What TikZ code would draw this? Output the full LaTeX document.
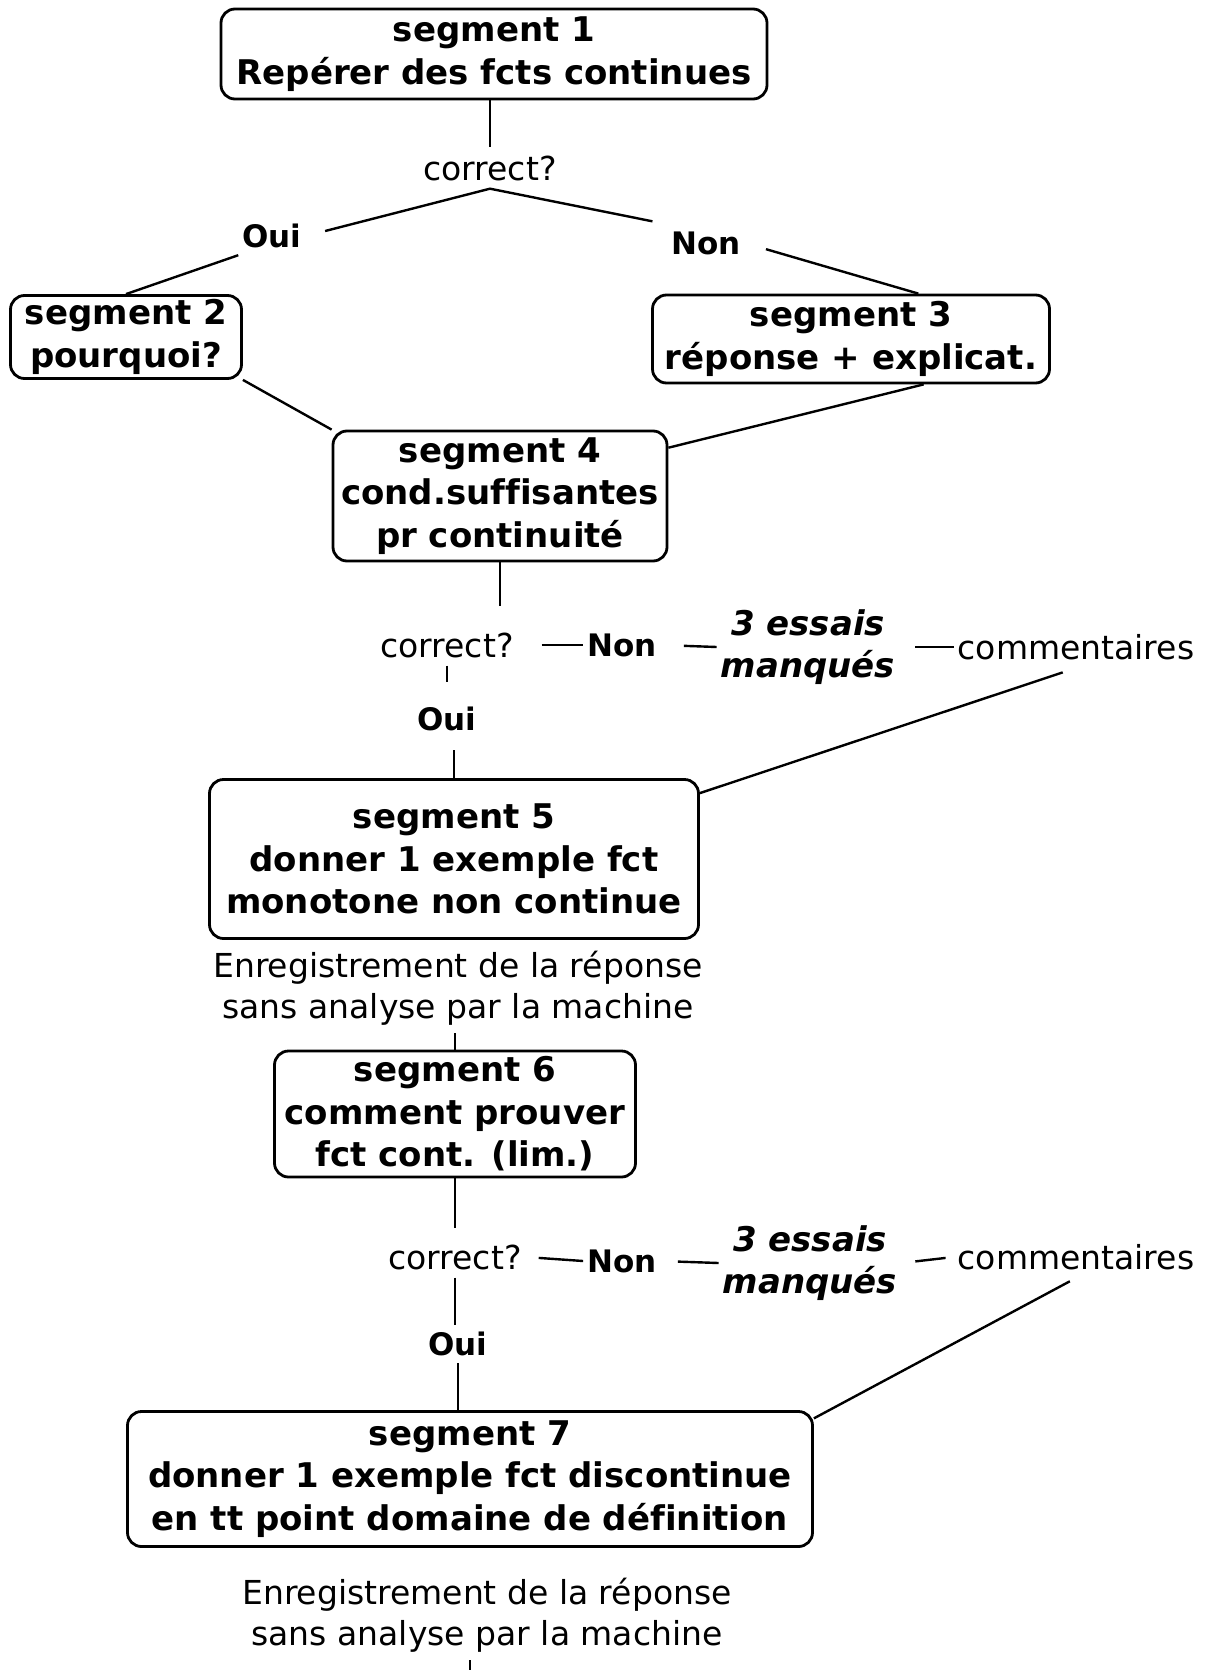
\documentclass[tikz,border=0pt]{standalone}
\usepackage{fontspec}
\setmainfont[Ligatures=NoCommon]{DejaVu Sans}
\newcommand\boxfont{\fontsize{34}{42.6}\selectfont\bfseries}
\newcommand\labfont{\fontsize{33}{40.5}\selectfont}
\newcommand\repfont{\fontsize{31}{38}\selectfont\bfseries}
\newcommand\essfont{\fontsize{34}{42.6}\selectfont\bfseries\itshape}
\begin{document}
\begin{tikzpicture}[x=1pt, y=-1pt, line width=2.4pt,
  seg/.style={draw, rounded corners=14pt, line width=2.8pt, align=center,
    font=\boxfont, inner xsep=6pt, inner ysep=0pt},
  lab/.style={font=\labfont, align=center, inner xsep=3pt, inner ysep=7pt},
  rep/.style={font=\repfont, inner xsep=3pt, inner ysep=6pt},
  ess/.style={font=\essfont, align=center, inner xsep=3pt, inner ysep=6pt}]
  \useasboundingbox (0,0) rectangle (1207,1670);
  % segment 1 and first test
  \node[seg, minimum width=546pt, minimum height=90pt] (seg1) at (494,54) {segment 1\\Repérer des fcts continues};
  \node[lab] (cor1) at (490,168) {correct?};
  \node[rep] (oui1) at (272,236) {Oui};
  \node[rep] (non1) at (706,243) {Non};
  \draw (cor1.north |- seg1.south) -- (cor1.north);
  \draw[shorten <=20pt, shorten >=15pt] (oui1.east) -- (cor1.south) -- (non1.north west);
  % segments 2 and 3
  \node[seg, minimum width=231pt, minimum height=83pt] (seg2) at (126,337) {segment 2\\pourquoi?};
  \node[seg, minimum width=397pt, minimum height=88pt] (seg3) at (851,339) {segment 3\\réponse + explicat.};
  \draw (oui1.south west) -- (seg2.north);
  \draw[shorten <=22pt] (non1.east) -- (seg3.34);
  % segment 4 and its test
  \node[seg, minimum width=334pt, minimum height=130pt] (seg4) at (500,496) {segment 4\\cond.suffisantes\\pr continuité};
  \draw (seg2.south east) -- (seg4.north west);
  \draw (seg3.-32) -- (seg4.16);
  \node[lab] (cor2) at (447,645) {correct?};
  \node[rep] (non2) at (622,645) {Non};
  \node[ess] (ess1) at (808,647) {3 essais\\manqués};
  \node[lab] (com1) at (1076,647) {commentaires};
  \node[rep] (oui2) at (447,719) {Oui};
  \draw[shorten >=18pt] (seg4.south) -- (seg4.south |- cor2.north);
  \draw[shorten <=24pt] (cor2.east) -- (non2.west);
  \draw[shorten <=23pt] (non2.east) -- (ess1.west);
  \draw[shorten <=16pt] (ess1.east) -- (com1.west);
  \draw[shorten >=18pt] (cor2.south) -- (cor2.south |- oui2.north);
  % segment 5
  \node[seg, minimum width=489pt, minimum height=159pt] (seg5) at (454,859) {segment 5\\donner 1 exemple fct\\monotone non continue};
  \draw[shorten <=12pt] (seg5.north |- oui2.south) -- (seg5.north);
  \draw[shorten <=14pt] (com1.south) -- (seg5.15);
  \node[lab] (enr1) at (458,988) {Enregistrement de la réponse\\sans analyse par la machine};
  % segment 6 and its test
  \node[seg, minimum width=361pt, minimum height=126pt] (seg6) at (455,1114) {segment 6\\comment prouver\\fct cont. (lim.)};
  \draw (seg6.north |- enr1.south) -- (seg6.north);
  \node[lab] (cor3) at (455,1257) {correct?};
  \node[rep] (non3) at (622,1261) {Non};
  \node[ess] (ess2) at (810,1263) {3 essais\\manqués};
  \node[lab] (com2) at (1076,1257) {commentaires};
  \node[rep] (oui3) at (458,1344) {Oui};
  \draw[shorten >=8pt] (seg6.south) -- (seg6.south |- cor3.north);
  \draw[shorten <=13pt] (cor3.east) -- (non3.west);
  \draw[shorten <=17pt] (non3.east) -- (ess2.west);
  \draw[shorten <=14pt, shorten >=8pt] (ess2.east) -- (com2.west);
  \draw (seg6.south |- cor3.south) -- (seg6.south |- oui3.north);
  % segment 7
  \node[seg, minimum width=685pt, minimum height=135pt] (seg7) at (470,1479) {segment 7\\donner 1 exemple fct discontinue\\en tt point domaine de définition};
  \draw (oui3.south) -- (oui3.south |- seg7.north);
  \draw[shorten <=7pt] (com2.south) -- (seg7.10);
  \node[lab] (enr2) at (487,1615) {Enregistrement de la réponse\\sans analyse par la machine};
  \coordinate (fin) at (470,1670);
  \draw (fin |- enr2.south) -- (fin);
\end{tikzpicture}
\end{document}
